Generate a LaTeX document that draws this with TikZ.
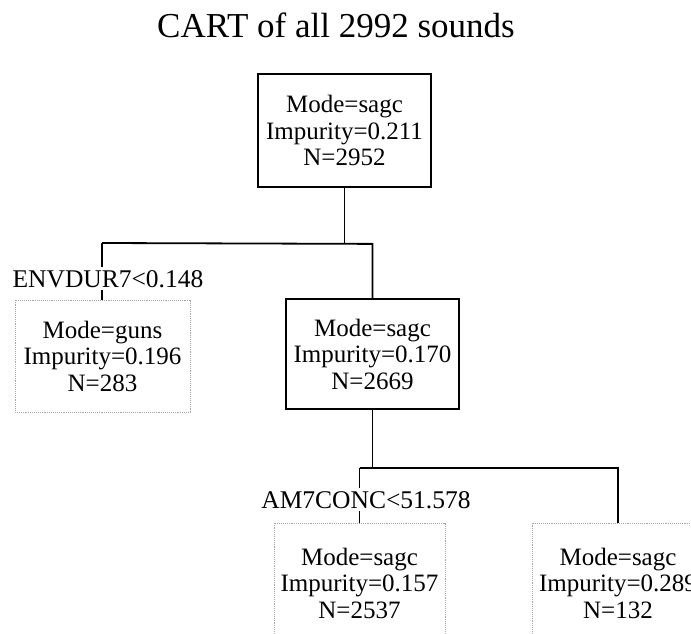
\documentclass[tikz,border=0pt]{standalone}
\usepackage{fontspec}
\setmainfont{Liberation Serif}
\begin{document}
\begin{tikzpicture}[x=1pt,y=-1pt,
  solidbox/.style={draw=black,line width=1.8pt,minimum width=173pt,inner sep=0pt,align=center,font=\fontsize{25}{26.5}\selectfont},
  leafbox/.style={draw=gray!70,densely dotted,line width=0.9pt,inner sep=0pt,align=center,font=\fontsize{25}{26.5}\selectfont},
  cond/.style={font=\fontsize{25.5}{26}\selectfont,inner xsep=0pt,inner ysep=3pt,text depth=0pt,anchor=base},
  link/.style={line width=1.8pt}]
\clip (0,0) rectangle (691,634);
\node[font=\fontsize{35}{40}\selectfont,anchor=base,inner sep=0pt] (title) at (336,38) {CART of all 2992 sounds};
\node[solidbox,minimum height=113pt] (root) at (344.5,130.5) {Mode=sagc\\Impurity=0.211\\N=2952};
\node[solidbox,minimum height=110pt] (mid) at (372.5,354) {Mode=sagc\\Impurity=0.170\\N=2669};
\node[leafbox,minimum width=175pt,minimum height=112pt] (leafA) at (102.5,356) {Mode=guns\\Impurity=0.196\\N=283};
\node[leafbox,minimum width=171pt,minimum height=120pt] (bl) at (359.5,583) {Mode=sagc\\Impurity=0.157\\N=2537};
\node[leafbox,minimum width=172pt,minimum height=120pt] (br) at (618,583) {Mode=sagc\\Impurity=0.289\\N=132};
\node[cond] (envl) at (108,287) {ENVDUR7<0.148};
\node[cond] (aml) at (366,508) {AM7CONC<51.578};
\path (root.south) ++(0,56) coordinate (j1);
\coordinate (lb) at (102,243);
\draw[link] (root.south) -- (j1);
\draw[link] (lb) -- (mid.north |- j1) -- (mid.north);
\draw[link] (lb) -- (lb |- envl.north);
\draw[link] (lb |- envl.south) -- (lb |- leafA.north);
\path (mid.south) ++(0,58) coordinate (j2);
\draw[link] (mid.south) -- (j2);
\draw[link] (bl.north |- j2) -- (br.north |- j2) -- (br.north);
\draw[link] (bl.north |- j2) -- (bl.north |- aml.north);
\draw[link] (bl.north |- aml.south) -- (bl.north);
\end{tikzpicture}
\end{document}
